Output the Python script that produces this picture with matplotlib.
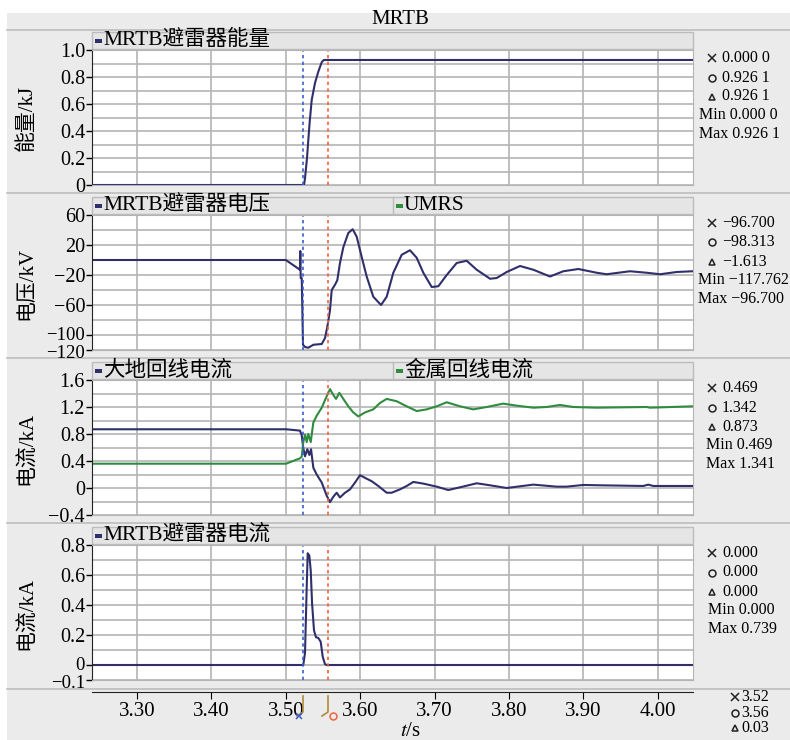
import matplotlib
matplotlib.use("Agg")
import matplotlib.pyplot as plt
from matplotlib.patches import Rectangle
from matplotlib.lines import Line2D
from matplotlib.transforms import ScaledTranslation

plt.rcParams['font.family'] = ['Liberation Serif', 'Noto Sans CJK SC']
plt.rcParams['mathtext.fontset'] = 'stix'

# ---- data ----
t_energy = [3.240, 3.5245, 3.5258, 3.5285, 3.5302, 3.5320, 3.5348, 3.5392, 3.5437, 3.5483, 3.5510, 4.047]
energy = [0, 0, 0.05, 0.20, 0.33, 0.46, 0.63, 0.755, 0.84, 0.91, 0.926, 0.926]

t_volt = [3.240, 3.500, 3.519, 3.5195, 3.520, 3.5214, 3.5231, 3.5258, 3.5302, 3.5370,
          3.5483, 3.5527, 3.5558, 3.5594, 3.5617, 3.5661, 3.5692, 3.5728, 3.5773, 3.5840,
          3.5899, 3.5953, 3.6020, 3.6087, 3.6176, 3.6280, 3.6356, 3.6445, 3.6558, 3.6669,
          3.6759, 3.6848, 3.6961, 3.7050, 3.7163, 3.7297, 3.7431, 3.7566, 3.7745, 3.7835,
          3.7969, 3.8148, 3.8327, 3.8551, 3.8730, 3.8932, 3.9179, 3.9313, 3.9626, 3.9851,
          4.0030, 4.0254, 4.047]
volt = [0, 0, -13, 12, -24, -24, -113, -116, -117, -113,
        -112, -104, -89, -67, -40, -33, -27, -4, 17, 36,
        41, 31, 4, -22, -49, -60, -49, -17, 7, 13,
        3, -17, -36, -35, -20, -4, -1, -13, -25, -24,
        -16, -8, -13, -22, -15, -12, -17, -19, -15, -17,
        -19, -16, -15]

t_ground = [3.240, 3.5003, 3.5191, 3.5214, 3.5235, 3.5258, 3.5289, 3.5316, 3.5339, 3.5370,
            3.5415, 3.5483, 3.5550, 3.5594, 3.5638, 3.5684, 3.5728, 3.5796, 3.5863, 3.5930,
            3.5997, 3.6065, 3.6155, 3.6243, 3.6356, 3.6423, 3.6535, 3.6625, 3.6714, 3.6848,
            3.7028, 3.7184, 3.7341, 3.7566, 3.7745, 3.7969, 3.8327, 3.8641, 3.8775, 3.8999,
            3.9223, 3.9805, 3.9872, 3.9939, 4.047]
i_ground = [0.87, 0.87, 0.85, 0.78, 0.59, 0.47, 0.575, 0.49, 0.575, 0.30,
            0.20, 0.08, -0.115, -0.21, -0.13, -0.07, -0.14, -0.07, -0.02, 0.08,
            0.19, 0.15, 0.10, 0.03, -0.07, -0.07, -0.02, 0.03, 0.09, 0.065,
            0.02, -0.03, 0.01, 0.07, 0.04, 0.0, 0.05, 0.02, 0.02, 0.045,
            0.04, 0.03, 0.05, 0.03, 0.03]

t_metal = [3.240, 3.5003, 3.5191, 3.5214, 3.5235, 3.5258, 3.5281, 3.5302, 3.5335, 3.5370,
           3.5415, 3.5483, 3.5550, 3.5594, 3.5638, 3.5675, 3.5719, 3.5773, 3.5840, 3.5907,
           3.5974, 3.6065, 3.6176, 3.6266, 3.6356, 3.6491, 3.6625, 3.6759, 3.6894, 3.7028,
           3.7163, 3.7341, 3.7520, 3.7700, 3.7923, 3.8103, 3.8327, 3.8507, 3.8685, 3.8864,
           3.9179, 3.9851, 3.9895, 4.047]
i_metal = [0.36, 0.36, 0.44, 0.465, 0.68, 0.79, 0.68, 0.80, 0.68, 0.97,
           1.07, 1.19, 1.36, 1.465, 1.38, 1.32, 1.41, 1.32, 1.21, 1.12,
           1.06, 1.12, 1.165, 1.26, 1.32, 1.285, 1.21, 1.14, 1.165, 1.21,
           1.27, 1.21, 1.165, 1.20, 1.25, 1.22, 1.19, 1.20, 1.23, 1.20,
           1.19, 1.20, 1.19, 1.21]

t_arr = [3.240, 3.5235, 3.5258, 3.5281, 3.5294, 3.5316, 3.5335, 3.5353, 3.5379, 3.5406,
         3.5437, 3.5469, 3.5496, 3.5527, 3.5550, 4.047]
i_arr = [0, 0, 0.08, 0.52, 0.745, 0.73, 0.63, 0.41, 0.23, 0.185,
         0.18, 0.155, 0.055, 0.005, 0, 0]

t_cursor1 = 3.5235
t_cursor2 = 3.5567
x_ticks = [3.30, 3.40, 3.50, 3.60, 3.70, 3.80, 3.90, 4.00]
x_labels = ['3.30', '3.40', '3.50', '3.60', '3.70', '3.80', '3.90', '4.00']

panels = [
    dict(ylim=(0, 1.0), ticks=[0, 0.2, 0.4, 0.6, 0.8, 1.0],
         labels=['0', '0.2', '0.4', '0.6', '0.8', '1.0'],
         grid=[0.1, 0.3, 0.5, 0.7, 0.9], ylabel='能量/kJ',
         legend=['MRTB避雷器能量'], crowded=False,
         info=[('x', '0.000 0'), ('o', '0.926 1'), ('^', '0.926 1'),
               ('Min', '0.000 0'), ('Max', '0.926 1')], minx=699),
    dict(ylim=(-120, 60), ticks=[-120, -100, -60, -20, 20, 60],
         labels=['−120', '−100', '−60', '−20', '20', '60'],
         grid=[-80, -40, 0, 40], ylabel='电压/kV',
         legend=['MRTB避雷器电压', 'UMRS'], crowded=True,
         info=[('x', '−96.700'), ('o', '−98.313'), ('^', '−1.613'),
               ('Min', '−117.762'), ('Max', '−96.700')], minx=698),
    dict(ylim=(-0.4, 1.6), ticks=[-0.4, 0, 0.4, 0.8, 1.2, 1.6],
         labels=['−0.4', '0', '0.4', '0.8', '1.2', '1.6'],
         grid=[-0.2, 0.2, 0.6, 1.0, 1.4], ylabel='电流/kA',
         legend=['大地回线电流', '金属回线电流'], crowded=False,
         info=[('x', '0.469'), ('o', '1.342'), ('^', '0.873'),
               ('Min', '0.469'), ('Max', '1.341')], minx=706),
    dict(ylim=(-0.1, 0.8), ticks=[-0.1, 0, 0.2, 0.4, 0.6, 0.8],
         labels=['−0.1', '0', '0.2', '0.4', '0.6', '0.8'],
         grid=[0.1, 0.3, 0.5, 0.7], ylabel='电流/kA',
         legend=['MRTB避雷器电流'], crowded=True,
         info=[('x', '0.000'), ('o', '0.000'), ('^', '0.000'),
               ('Min', '0.000'), ('Max', '0.739')], minx=708),
]

W, H = 790, 740
NAVY = '#2f2f6b'
GREEN = '#2f8c3f'
BG = '#ebebeb'


def fx(x):
    return x / W


def fy(y):
    return 1 - y / H


fig = plt.figure(figsize=(7.9, 7.4), dpi=100, facecolor=BG)

# white margins and title bar
fig.add_artist(Rectangle((0, fy(13)), 1, 13 / H, transform=fig.transFigure,
                         facecolor='white', edgecolor='none', zorder=-2))
fig.add_artist(Rectangle((0, 0), fx(7), 1, transform=fig.transFigure,
                         facecolor='white', edgecolor='none', zorder=-2))
fig.text(fx(400), fy(20), 'MRTB', ha='center', va='center', fontsize=15)
for yy in [30, 193, 358, 523, 689]:
    fig.add_artist(Line2D([fx(7), 1], [fy(yy), fy(yy)], transform=fig.transFigure,
                          color='#bdbdbd', lw=1.2, zorder=-1))


def marker(x, y, m, size=5, color='#222222'):
    fig.add_artist(Line2D([fx(x)], [fy(y)], transform=fig.transFigure, marker=m,
                          markersize=size, markerfacecolor='none',
                          markeredgecolor=color, markeredgewidth=1.1, ls='none'))


series = [
    [(t_energy, energy, NAVY)],
    [(t_volt, volt, NAVY)],
    [(t_ground, i_ground, NAVY), (t_metal, i_metal, GREEN)],
    [(t_arr, i_arr, NAVY)],
]
legend_colors = [[NAVY], [NAVY, GREEN], [NAVY, GREEN], [NAVY]]

tops = [50, 215, 380, 545]
for k, (p, top) in enumerate(zip(panels, tops)):
    ax = fig.add_axes([fx(92), fy(top + 135), 601 / W, 135 / H])
    ax.set_facecolor('white')
    for t, v, c in series[k]:
        ax.plot(t, v, color=c, lw=1.5)
    ax.axvline(t_cursor1, color='#3a5fd0', lw=1.2, ls=(0, (2, 2)))
    ax.axvline(t_cursor2, color='#f0623a', lw=1.2, ls=(0, (2, 2)))
    ax.set_xlim(3.2395, 4.0473)
    ax.set_ylim(*p['ylim'])
    ax.set_xticks(x_ticks)
    ax.set_xticklabels([])
    ax.tick_params(axis='x', length=0)
    ax.set_yticks(p['ticks'])
    ax.set_yticklabels(p['labels'], fontsize=14.5)
    ax.set_yticks(p['grid'], minor=True)
    ax.tick_params(axis='y', which='major', length=4, width=1, pad=1)
    ax.tick_params(axis='y', which='minor', length=0)
    ax.grid(True, which='both', color='#b4b4b4', lw=1.2)
    ax.set_axisbelow(True)
    for s in ['top', 'right', 'bottom']:
        ax.spines[s].set_color('#b4b4b4')
    ax.spines['left'].set_color('#222222')
    if p['crowded']:
        # the two lowest labels sit close together; pull them apart a little
        lbls = ax.get_yticklabels()
        lbls[0].set_transform(lbls[0].get_transform() +
                              ScaledTranslation(0, -1 / 100, fig.dpi_scale_trans))
        lbls[1].set_transform(lbls[1].get_transform() +
                              ScaledTranslation(0, 2 / 100, fig.dpi_scale_trans))
        for lb in lbls[:2]:
            lb.set_fontsize(13.5)

    fig.text(fx(27), fy(top + 68), p['ylabel'], rotation=90, ha='center',
             va='center', fontsize=15)

    # header (legend) bar
    fig.add_artist(Rectangle((fx(92), fy(top - 1)), 601 / W, 17 / H,
                             transform=fig.transFigure, facecolor='#e5e5e5',
                             edgecolor='#bcbcbc', lw=1, zorder=-1))
    starts = [92, 393]
    for j, name in enumerate(p['legend']):
        x0 = starts[j]
        if j > 0:
            fig.add_artist(Line2D([fx(x0), fx(x0)], [fy(top - 18), fy(top - 1)],
                                  transform=fig.transFigure, color='#bcbcbc', lw=1))
        fig.add_artist(Rectangle((fx(x0 + 3), fy(top - 7)), 7 / W, 4 / H,
                                 transform=fig.transFigure,
                                 facecolor=legend_colors[k][j], edgecolor='none'))
        fig.text(fx(x0 + 11), fy(top - 10), name, ha='left', va='center', fontsize=15.5)

    # cursor read-outs on the right
    offs = [8, 27.5, 46.5, 65, 84]
    for (sym, val), dy in zip(p['info'], offs):
        if sym in ('Min', 'Max'):
            fig.text(fx(p['minx']), fy(top + dy), f'{sym} {val}', ha='left',
                     va='center', fontsize=11.5)
        else:
            marker(712, top + dy, sym, size=5 if sym != 'x' else 6)
            fig.text(fx(722), fy(top + dy), val, ha='left', va='center', fontsize=11.5)

# shared time axis
axx = fig.add_axes([fx(92), fy(692), 601 / W, 10 / H])
axx.patch.set_alpha(0)
for s in ['top', 'right', 'left']:
    axx.spines[s].set_visible(False)
axx.spines['bottom'].set_color('#222222')
axx.set_xlim(3.2395, 4.0473)
axx.set_yticks([])
axx.set_xticks(x_ticks)
axx.set_xticklabels(x_labels, fontsize=15)
axx.tick_params(axis='x', length=5, pad=2)
fig.text(fx(410), fy(731), '$t$/s', ha='center', va='center', fontsize=15)

# cursor handles below the axis
for xc, col, m in [(303, '#3a5fd0', 'x'), (328, '#f0623a', 'o')]:
    fig.add_artist(Line2D([fx(xc), fx(xc), fx(xc - 6)], [fy(696), fy(712), fy(716)],
                          transform=fig.transFigure, color='#b08a3a', lw=1.2))
    marker(xc - 4 if m == 'x' else xc + 5, 716, m, size=5, color=col)

for (sym, val), yy in zip([('x', '3.52'), ('o', '3.56'), ('^', '0.03')], [697, 713, 728]):
    marker(735, yy, sym, size=5 if sym != 'x' else 6)
    fig.text(fx(741), fy(yy), val, ha='left', va='center', fontsize=11.5)

fig.savefig('out.png', dpi=100, facecolor=BG)
